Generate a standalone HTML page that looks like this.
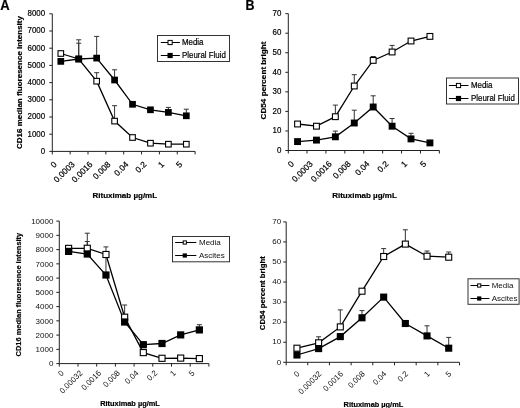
<!DOCTYPE html>
<html><head><meta charset="utf-8"><style>
html,body{margin:0;padding:0;background:#fff;}
svg{display:block;filter:grayscale(1) blur(0.35px);}
text{font-family:"Liberation Sans", sans-serif;fill:#000;stroke:#000;stroke-width:0.2px;}
text.lt{stroke:none;fill:#111;}
</style></head><body>
<svg width="520" height="408" viewBox="0 0 520 408">
<rect width="520" height="408" fill="#fff"/>
<text transform="translate(0.3,9.7) scale(0.9,1)" font-size="14.5" font-weight="bold">A</text>
<text transform="translate(245.6,9.7) scale(0.86,1)" font-size="14.5" font-weight="bold">B</text>
<line x1="52.3" y1="13.8" x2="52.3" y2="154.4" stroke="#222" stroke-width="1"/>
<line x1="49.3" y1="151.4" x2="52.3" y2="151.4" stroke="#222" stroke-width="1"/>
<text transform="translate(45.1,153.7) scale(0.92,1)" text-anchor="end" font-size="8.6">0</text>
<line x1="49.3" y1="134.2" x2="52.3" y2="134.2" stroke="#222" stroke-width="1"/>
<text transform="translate(45.1,136.5) scale(0.92,1)" text-anchor="end" font-size="8.6">1000</text>
<line x1="49.3" y1="117" x2="52.3" y2="117" stroke="#222" stroke-width="1"/>
<text transform="translate(45.1,119.3) scale(0.92,1)" text-anchor="end" font-size="8.6">2000</text>
<line x1="49.3" y1="99.8" x2="52.3" y2="99.8" stroke="#222" stroke-width="1"/>
<text transform="translate(45.1,102.1) scale(0.92,1)" text-anchor="end" font-size="8.6">3000</text>
<line x1="49.3" y1="82.6" x2="52.3" y2="82.6" stroke="#222" stroke-width="1"/>
<text transform="translate(45.1,84.9) scale(0.92,1)" text-anchor="end" font-size="8.6">4000</text>
<line x1="49.3" y1="65.4" x2="52.3" y2="65.4" stroke="#222" stroke-width="1"/>
<text transform="translate(45.1,67.7) scale(0.92,1)" text-anchor="end" font-size="8.6">5000</text>
<line x1="49.3" y1="48.2" x2="52.3" y2="48.2" stroke="#222" stroke-width="1"/>
<text transform="translate(45.1,50.5) scale(0.92,1)" text-anchor="end" font-size="8.6">6000</text>
<line x1="49.3" y1="31" x2="52.3" y2="31" stroke="#222" stroke-width="1"/>
<text transform="translate(45.1,33.3) scale(0.92,1)" text-anchor="end" font-size="8.6">7000</text>
<line x1="49.3" y1="13.8" x2="52.3" y2="13.8" stroke="#222" stroke-width="1"/>
<text transform="translate(45.1,16.1) scale(0.92,1)" text-anchor="end" font-size="8.6">8000</text>
<line x1="52.3" y1="151.4" x2="195.1" y2="151.4" stroke="#222" stroke-width="1"/>
<line x1="70.15" y1="151.4" x2="70.15" y2="154.4" stroke="#222" stroke-width="1"/>
<line x1="88" y1="151.4" x2="88" y2="154.4" stroke="#222" stroke-width="1"/>
<line x1="105.85" y1="151.4" x2="105.85" y2="154.4" stroke="#222" stroke-width="1"/>
<line x1="123.7" y1="151.4" x2="123.7" y2="154.4" stroke="#222" stroke-width="1"/>
<line x1="141.55" y1="151.4" x2="141.55" y2="154.4" stroke="#222" stroke-width="1"/>
<line x1="159.4" y1="151.4" x2="159.4" y2="154.4" stroke="#222" stroke-width="1"/>
<line x1="177.25" y1="151.4" x2="177.25" y2="154.4" stroke="#222" stroke-width="1"/>
<line x1="195.1" y1="151.4" x2="195.1" y2="154.4" stroke="#222" stroke-width="1"/>
<text transform="translate(57.3,164.9) rotate(-45)" text-anchor="end" font-size="8.4">0</text>
<text transform="translate(75.23,164.9) rotate(-45)" text-anchor="end" font-size="8.4">0.0003</text>
<text transform="translate(93.16,164.9) rotate(-45)" text-anchor="end" font-size="8.4">0.0016</text>
<text transform="translate(111.09,164.9) rotate(-45)" text-anchor="end" font-size="8.4">0.008</text>
<text transform="translate(129.02,164.9) rotate(-45)" text-anchor="end" font-size="8.4">0.04</text>
<text transform="translate(146.95,164.9) rotate(-45)" text-anchor="end" font-size="8.4">0.2</text>
<text transform="translate(164.88,164.9) rotate(-45)" text-anchor="end" font-size="8.4">1</text>
<text transform="translate(182.81,164.9) rotate(-45)" text-anchor="end" font-size="8.4">5</text>
<text transform="translate(124.8,198.4)" text-anchor="middle" font-size="8" font-weight="bold">Rituximab µg/mL</text>
<text transform="translate(21.9,82.5) rotate(-90) scale(1,0.9)" text-anchor="middle" font-size="8" font-weight="bold">CD16 median fluoresence intensity</text>
<polyline points="60.8,53.5 78.73,59 96.66,81.2 114.59,121.1 132.52,137.5 150.45,143.2 168.38,144.2 186.31,144.2" fill="none" stroke="#000" stroke-width="1.3"/>
<polyline points="60.8,61.4 78.73,59 96.66,58.1 114.59,80 132.52,104.3 150.45,109.8 168.38,112.4 186.31,115.8" fill="none" stroke="#000" stroke-width="1.3"/>
<line x1="78.73" y1="43.2" x2="78.73" y2="59" stroke="#333" stroke-width="1"/>
<line x1="76.23" y1="43.2" x2="81.23" y2="43.2" stroke="#333" stroke-width="1"/>
<line x1="96.66" y1="72.7" x2="96.66" y2="81.2" stroke="#333" stroke-width="1"/>
<line x1="94.16" y1="72.7" x2="99.16" y2="72.7" stroke="#333" stroke-width="1"/>
<line x1="114.59" y1="105.7" x2="114.59" y2="121.1" stroke="#333" stroke-width="1"/>
<line x1="112.09" y1="105.7" x2="117.09" y2="105.7" stroke="#333" stroke-width="1"/>
<line x1="78.73" y1="39.8" x2="78.73" y2="59" stroke="#333" stroke-width="1"/>
<line x1="76.23" y1="39.8" x2="81.23" y2="39.8" stroke="#333" stroke-width="1"/>
<line x1="96.66" y1="36.4" x2="96.66" y2="58.1" stroke="#333" stroke-width="1"/>
<line x1="94.16" y1="36.4" x2="99.16" y2="36.4" stroke="#333" stroke-width="1"/>
<line x1="114.59" y1="69.8" x2="114.59" y2="80" stroke="#333" stroke-width="1"/>
<line x1="112.09" y1="69.8" x2="117.09" y2="69.8" stroke="#333" stroke-width="1"/>
<line x1="168.38" y1="107.4" x2="168.38" y2="112.4" stroke="#333" stroke-width="1"/>
<line x1="165.88" y1="107.4" x2="170.88" y2="107.4" stroke="#333" stroke-width="1"/>
<line x1="186.31" y1="109.2" x2="186.31" y2="115.8" stroke="#333" stroke-width="1"/>
<line x1="183.81" y1="109.2" x2="188.81" y2="109.2" stroke="#333" stroke-width="1"/>
<rect x="58" y="50.7" width="5.6" height="5.6" fill="#fff" stroke="#000" stroke-width="1.1"/>
<rect x="75.93" y="56.2" width="5.6" height="5.6" fill="#fff" stroke="#000" stroke-width="1.1"/>
<rect x="93.86" y="78.4" width="5.6" height="5.6" fill="#fff" stroke="#000" stroke-width="1.1"/>
<rect x="111.79" y="118.3" width="5.6" height="5.6" fill="#fff" stroke="#000" stroke-width="1.1"/>
<rect x="129.72" y="134.7" width="5.6" height="5.6" fill="#fff" stroke="#000" stroke-width="1.1"/>
<rect x="147.65" y="140.4" width="5.6" height="5.6" fill="#fff" stroke="#000" stroke-width="1.1"/>
<rect x="165.58" y="141.4" width="5.6" height="5.6" fill="#fff" stroke="#000" stroke-width="1.1"/>
<rect x="183.51" y="141.4" width="5.6" height="5.6" fill="#fff" stroke="#000" stroke-width="1.1"/>
<rect x="57.45" y="58.05" width="6.7" height="6.7" fill="#000"/>
<rect x="75.38" y="55.65" width="6.7" height="6.7" fill="#000"/>
<rect x="93.31" y="54.75" width="6.7" height="6.7" fill="#000"/>
<rect x="111.24" y="76.65" width="6.7" height="6.7" fill="#000"/>
<rect x="129.17" y="100.95" width="6.7" height="6.7" fill="#000"/>
<rect x="147.1" y="106.45" width="6.7" height="6.7" fill="#000"/>
<rect x="165.03" y="109.05" width="6.7" height="6.7" fill="#000"/>
<rect x="182.96" y="112.45" width="6.7" height="6.7" fill="#000"/>
<rect x="157.5" y="35.5" width="72" height="26" fill="#fff" stroke="#333" stroke-width="1"/>
<line x1="160.8" y1="42.5" x2="179.9" y2="42.5" stroke="#000" stroke-width="1"/>
<rect x="168" y="40.4" width="4.2" height="4.2" fill="#fff" stroke="#000" stroke-width="1"/>
<text transform="translate(182,44.8) scale(0.92,1)" font-size="8.6">Media</text>
<line x1="160.8" y1="55.5" x2="179.9" y2="55.5" stroke="#000" stroke-width="1"/>
<rect x="167.5" y="52.9" width="5.2" height="5.2" fill="#000"/>
<text transform="translate(182,57.8) scale(0.92,1)" font-size="8.6">Pleural Fluid</text>
<line x1="288.3" y1="13.65" x2="288.3" y2="153.5" stroke="#222" stroke-width="1"/>
<line x1="285.3" y1="150.5" x2="288.3" y2="150.5" stroke="#222" stroke-width="1"/>
<text transform="translate(281.4,152.7) scale(0.92,1)" text-anchor="end" font-size="8.6">0</text>
<line x1="285.3" y1="130.95" x2="288.3" y2="130.95" stroke="#222" stroke-width="1"/>
<text transform="translate(281.4,133.15) scale(0.92,1)" text-anchor="end" font-size="8.6">10</text>
<line x1="285.3" y1="111.4" x2="288.3" y2="111.4" stroke="#222" stroke-width="1"/>
<text transform="translate(281.4,113.6) scale(0.92,1)" text-anchor="end" font-size="8.6">20</text>
<line x1="285.3" y1="91.85" x2="288.3" y2="91.85" stroke="#222" stroke-width="1"/>
<text transform="translate(281.4,94.05) scale(0.92,1)" text-anchor="end" font-size="8.6">30</text>
<line x1="285.3" y1="72.3" x2="288.3" y2="72.3" stroke="#222" stroke-width="1"/>
<text transform="translate(281.4,74.5) scale(0.92,1)" text-anchor="end" font-size="8.6">40</text>
<line x1="285.3" y1="52.75" x2="288.3" y2="52.75" stroke="#222" stroke-width="1"/>
<text transform="translate(281.4,54.95) scale(0.92,1)" text-anchor="end" font-size="8.6">50</text>
<line x1="285.3" y1="33.2" x2="288.3" y2="33.2" stroke="#222" stroke-width="1"/>
<text transform="translate(281.4,35.4) scale(0.92,1)" text-anchor="end" font-size="8.6">60</text>
<line x1="285.3" y1="13.65" x2="288.3" y2="13.65" stroke="#222" stroke-width="1"/>
<text transform="translate(281.4,15.85) scale(0.92,1)" text-anchor="end" font-size="8.6">70</text>
<line x1="288.1" y1="150.5" x2="439.38" y2="150.5" stroke="#222" stroke-width="1"/>
<line x1="307.01" y1="150.5" x2="307.01" y2="153.5" stroke="#222" stroke-width="1"/>
<line x1="325.92" y1="150.5" x2="325.92" y2="153.5" stroke="#222" stroke-width="1"/>
<line x1="344.83" y1="150.5" x2="344.83" y2="153.5" stroke="#222" stroke-width="1"/>
<line x1="363.74" y1="150.5" x2="363.74" y2="153.5" stroke="#222" stroke-width="1"/>
<line x1="382.65" y1="150.5" x2="382.65" y2="153.5" stroke="#222" stroke-width="1"/>
<line x1="401.56" y1="150.5" x2="401.56" y2="153.5" stroke="#222" stroke-width="1"/>
<line x1="420.47" y1="150.5" x2="420.47" y2="153.5" stroke="#222" stroke-width="1"/>
<line x1="439.38" y1="150.5" x2="439.38" y2="153.5" stroke="#222" stroke-width="1"/>
<text transform="translate(294.45,164.4) rotate(-45)" text-anchor="end" font-size="8.4">0</text>
<text transform="translate(313.36,164.4) rotate(-45)" text-anchor="end" font-size="8.4">0.0003</text>
<text transform="translate(332.27,164.4) rotate(-45)" text-anchor="end" font-size="8.4">0.0016</text>
<text transform="translate(351.18,164.4) rotate(-45)" text-anchor="end" font-size="8.4">0.008</text>
<text transform="translate(370.09,164.4) rotate(-45)" text-anchor="end" font-size="8.4">0.04</text>
<text transform="translate(389,164.4) rotate(-45)" text-anchor="end" font-size="8.4">0.2</text>
<text transform="translate(407.91,164.4) rotate(-45)" text-anchor="end" font-size="8.4">1</text>
<text transform="translate(426.82,164.4) rotate(-45)" text-anchor="end" font-size="8.4">5</text>
<text transform="translate(364.5,198)" text-anchor="middle" font-size="8" font-weight="bold">Rituximab µg/mL</text>
<text transform="translate(265.5,80.5) rotate(-90) scale(1,0.9)" text-anchor="middle" font-size="8.15" font-weight="bold">CD54 percent bright</text>
<polyline points="297.55,124 316.46,126.2 335.37,116.7 354.28,86 373.19,60.4 392.1,52 411.01,41 429.92,36.4" fill="none" stroke="#000" stroke-width="1.3"/>
<polyline points="297.55,141.6 316.46,140.1 335.37,136.8 354.28,123 373.19,107 392.1,126.2 411.01,138.9 429.92,142.9" fill="none" stroke="#000" stroke-width="1.3"/>
<line x1="335.37" y1="105.1" x2="335.37" y2="116.7" stroke="#333" stroke-width="1"/>
<line x1="332.87" y1="105.1" x2="337.87" y2="105.1" stroke="#333" stroke-width="1"/>
<line x1="354.28" y1="74.7" x2="354.28" y2="86" stroke="#333" stroke-width="1"/>
<line x1="351.78" y1="74.7" x2="356.78" y2="74.7" stroke="#333" stroke-width="1"/>
<line x1="373.19" y1="56.5" x2="373.19" y2="60.4" stroke="#333" stroke-width="1"/>
<line x1="370.69" y1="56.5" x2="375.69" y2="56.5" stroke="#333" stroke-width="1"/>
<line x1="392.1" y1="45.4" x2="392.1" y2="52" stroke="#333" stroke-width="1"/>
<line x1="389.6" y1="45.4" x2="394.6" y2="45.4" stroke="#333" stroke-width="1"/>
<line x1="335.37" y1="131.1" x2="335.37" y2="136.8" stroke="#333" stroke-width="1"/>
<line x1="332.87" y1="131.1" x2="337.87" y2="131.1" stroke="#333" stroke-width="1"/>
<line x1="354.28" y1="110.2" x2="354.28" y2="123" stroke="#333" stroke-width="1"/>
<line x1="351.78" y1="110.2" x2="356.78" y2="110.2" stroke="#333" stroke-width="1"/>
<line x1="373.19" y1="95.8" x2="373.19" y2="107" stroke="#333" stroke-width="1"/>
<line x1="370.69" y1="95.8" x2="375.69" y2="95.8" stroke="#333" stroke-width="1"/>
<line x1="392.1" y1="118.5" x2="392.1" y2="126.2" stroke="#333" stroke-width="1"/>
<line x1="389.6" y1="118.5" x2="394.6" y2="118.5" stroke="#333" stroke-width="1"/>
<line x1="411.01" y1="133.3" x2="411.01" y2="138.9" stroke="#333" stroke-width="1"/>
<line x1="408.51" y1="133.3" x2="413.51" y2="133.3" stroke="#333" stroke-width="1"/>
<rect x="294.65" y="121.1" width="5.8" height="5.8" fill="#fff" stroke="#000" stroke-width="1.1"/>
<rect x="313.56" y="123.3" width="5.8" height="5.8" fill="#fff" stroke="#000" stroke-width="1.1"/>
<rect x="332.47" y="113.8" width="5.8" height="5.8" fill="#fff" stroke="#000" stroke-width="1.1"/>
<rect x="351.38" y="83.1" width="5.8" height="5.8" fill="#fff" stroke="#000" stroke-width="1.1"/>
<rect x="370.29" y="57.5" width="5.8" height="5.8" fill="#fff" stroke="#000" stroke-width="1.1"/>
<rect x="389.2" y="49.1" width="5.8" height="5.8" fill="#fff" stroke="#000" stroke-width="1.1"/>
<rect x="408.11" y="38.1" width="5.8" height="5.8" fill="#fff" stroke="#000" stroke-width="1.1"/>
<rect x="427.02" y="33.5" width="5.8" height="5.8" fill="#fff" stroke="#000" stroke-width="1.1"/>
<rect x="294.1" y="138.15" width="6.9" height="6.9" fill="#000"/>
<rect x="313.01" y="136.65" width="6.9" height="6.9" fill="#000"/>
<rect x="331.92" y="133.35" width="6.9" height="6.9" fill="#000"/>
<rect x="350.83" y="119.55" width="6.9" height="6.9" fill="#000"/>
<rect x="369.74" y="103.55" width="6.9" height="6.9" fill="#000"/>
<rect x="388.65" y="122.75" width="6.9" height="6.9" fill="#000"/>
<rect x="407.56" y="135.45" width="6.9" height="6.9" fill="#000"/>
<rect x="426.47" y="139.45" width="6.9" height="6.9" fill="#000"/>
<rect x="446.5" y="78" width="72" height="26" fill="#fff" stroke="#333" stroke-width="1"/>
<line x1="448.9" y1="85.5" x2="468.5" y2="85.5" stroke="#000" stroke-width="1"/>
<rect x="456.4" y="83.4" width="4.2" height="4.2" fill="#fff" stroke="#000" stroke-width="1"/>
<text transform="translate(471,87.5) scale(0.92,1)" font-size="8.6">Media</text>
<line x1="448.9" y1="98.5" x2="468.5" y2="98.5" stroke="#000" stroke-width="1"/>
<rect x="455.9" y="95.9" width="5.2" height="5.2" fill="#000"/>
<text transform="translate(471,100.5) scale(0.92,1)" font-size="8.6">Pleural Fluid</text>
<line x1="59.3" y1="221.1" x2="59.3" y2="366.6" stroke="#222" stroke-width="1"/>
<line x1="56.3" y1="363.6" x2="59.3" y2="363.6" stroke="#222" stroke-width="1"/>
<text transform="translate(53.4,366.4)" text-anchor="end" font-size="8" class="lt">0</text>
<line x1="56.3" y1="349.35" x2="59.3" y2="349.35" stroke="#222" stroke-width="1"/>
<text transform="translate(53.4,352.15)" text-anchor="end" font-size="8" class="lt">1000</text>
<line x1="56.3" y1="335.1" x2="59.3" y2="335.1" stroke="#222" stroke-width="1"/>
<text transform="translate(53.4,337.9)" text-anchor="end" font-size="8" class="lt">2000</text>
<line x1="56.3" y1="320.85" x2="59.3" y2="320.85" stroke="#222" stroke-width="1"/>
<text transform="translate(53.4,323.65)" text-anchor="end" font-size="8" class="lt">3000</text>
<line x1="56.3" y1="306.6" x2="59.3" y2="306.6" stroke="#222" stroke-width="1"/>
<text transform="translate(53.4,309.4)" text-anchor="end" font-size="8" class="lt">4000</text>
<line x1="56.3" y1="292.35" x2="59.3" y2="292.35" stroke="#222" stroke-width="1"/>
<text transform="translate(53.4,295.15)" text-anchor="end" font-size="8" class="lt">5000</text>
<line x1="56.3" y1="278.1" x2="59.3" y2="278.1" stroke="#222" stroke-width="1"/>
<text transform="translate(53.4,280.9)" text-anchor="end" font-size="8" class="lt">6000</text>
<line x1="56.3" y1="263.85" x2="59.3" y2="263.85" stroke="#222" stroke-width="1"/>
<text transform="translate(53.4,266.65)" text-anchor="end" font-size="8" class="lt">7000</text>
<line x1="56.3" y1="249.6" x2="59.3" y2="249.6" stroke="#222" stroke-width="1"/>
<text transform="translate(53.4,252.4)" text-anchor="end" font-size="8" class="lt">8000</text>
<line x1="56.3" y1="235.35" x2="59.3" y2="235.35" stroke="#222" stroke-width="1"/>
<text transform="translate(53.4,238.15)" text-anchor="end" font-size="8" class="lt">9000</text>
<line x1="56.3" y1="221.1" x2="59.3" y2="221.1" stroke="#222" stroke-width="1"/>
<text transform="translate(53.4,223.9)" text-anchor="end" font-size="8" class="lt">10000</text>
<line x1="59.3" y1="363.6" x2="208.9" y2="363.6" stroke="#222" stroke-width="1"/>
<line x1="78" y1="363.6" x2="78" y2="366.6" stroke="#222" stroke-width="1"/>
<line x1="96.7" y1="363.6" x2="96.7" y2="366.6" stroke="#222" stroke-width="1"/>
<line x1="115.4" y1="363.6" x2="115.4" y2="366.6" stroke="#222" stroke-width="1"/>
<line x1="134.1" y1="363.6" x2="134.1" y2="366.6" stroke="#222" stroke-width="1"/>
<line x1="152.8" y1="363.6" x2="152.8" y2="366.6" stroke="#222" stroke-width="1"/>
<line x1="171.5" y1="363.6" x2="171.5" y2="366.6" stroke="#222" stroke-width="1"/>
<line x1="190.2" y1="363.6" x2="190.2" y2="366.6" stroke="#222" stroke-width="1"/>
<line x1="208.9" y1="363.6" x2="208.9" y2="366.6" stroke="#222" stroke-width="1"/>
<text transform="translate(64.4,373.5) rotate(-45)" text-anchor="end" font-size="8" class="lt">0</text>
<text transform="translate(83.08,373.5) rotate(-45)" text-anchor="end" font-size="8" class="lt">0.00032</text>
<text transform="translate(101.76,373.5) rotate(-45)" text-anchor="end" font-size="8" class="lt">0.0016</text>
<text transform="translate(120.44,373.5) rotate(-45)" text-anchor="end" font-size="8" class="lt">0.008</text>
<text transform="translate(139.12,373.5) rotate(-45)" text-anchor="end" font-size="8" class="lt">0.04</text>
<text transform="translate(157.8,373.5) rotate(-45)" text-anchor="end" font-size="8" class="lt">0.2</text>
<text transform="translate(176.48,373.5) rotate(-45)" text-anchor="end" font-size="8" class="lt">1</text>
<text transform="translate(195.16,373.5) rotate(-45)" text-anchor="end" font-size="8" class="lt">5</text>
<text transform="translate(130,406.4)" text-anchor="middle" font-size="7.4" font-weight="bold">Rituximab µg/mL</text>
<text transform="translate(21.4,294.6) rotate(-90) scale(1,0.9)" text-anchor="middle" font-size="7.45" font-weight="bold">CD16 median fluoresence intensity</text>
<polyline points="68.6,248.4 87.28,248.3 105.96,254.5 124.64,317.2 143.32,352.6 162,358.3 180.68,358.1 199.36,358.6" fill="none" stroke="#000" stroke-width="1.3"/>
<polyline points="68.6,251.4 87.28,254 105.96,275 124.64,322 143.32,344.7 162,343.5 180.68,334.9 199.36,329.9" fill="none" stroke="#000" stroke-width="1.3"/>
<line x1="87.28" y1="233.2" x2="87.28" y2="248.3" stroke="#333" stroke-width="1"/>
<line x1="84.78" y1="233.2" x2="89.78" y2="233.2" stroke="#333" stroke-width="1"/>
<line x1="105.96" y1="246.9" x2="105.96" y2="254.5" stroke="#333" stroke-width="1"/>
<line x1="103.46" y1="246.9" x2="108.46" y2="246.9" stroke="#333" stroke-width="1"/>
<line x1="124.64" y1="305" x2="124.64" y2="317.2" stroke="#333" stroke-width="1"/>
<line x1="122.14" y1="305" x2="127.14" y2="305" stroke="#333" stroke-width="1"/>
<line x1="87.28" y1="241.5" x2="87.28" y2="254" stroke="#333" stroke-width="1"/>
<line x1="84.78" y1="241.5" x2="89.78" y2="241.5" stroke="#333" stroke-width="1"/>
<line x1="105.96" y1="256" x2="105.96" y2="275" stroke="#333" stroke-width="1"/>
<line x1="103.46" y1="256" x2="108.46" y2="256" stroke="#333" stroke-width="1"/>
<line x1="199.36" y1="324.7" x2="199.36" y2="329.9" stroke="#333" stroke-width="1"/>
<line x1="196.86" y1="324.7" x2="201.86" y2="324.7" stroke="#333" stroke-width="1"/>
<rect x="65.55" y="245.35" width="6.1" height="6.1" fill="#fff" stroke="#000" stroke-width="1.1"/>
<rect x="84.23" y="245.25" width="6.1" height="6.1" fill="#fff" stroke="#000" stroke-width="1.1"/>
<rect x="102.91" y="251.45" width="6.1" height="6.1" fill="#fff" stroke="#000" stroke-width="1.1"/>
<rect x="121.59" y="314.15" width="6.1" height="6.1" fill="#fff" stroke="#000" stroke-width="1.1"/>
<rect x="140.27" y="349.55" width="6.1" height="6.1" fill="#fff" stroke="#000" stroke-width="1.1"/>
<rect x="158.95" y="355.25" width="6.1" height="6.1" fill="#fff" stroke="#000" stroke-width="1.1"/>
<rect x="177.63" y="355.05" width="6.1" height="6.1" fill="#fff" stroke="#000" stroke-width="1.1"/>
<rect x="196.31" y="355.55" width="6.1" height="6.1" fill="#fff" stroke="#000" stroke-width="1.1"/>
<rect x="65" y="247.8" width="7.2" height="7.2" fill="#000"/>
<rect x="83.68" y="250.4" width="7.2" height="7.2" fill="#000"/>
<rect x="102.36" y="271.4" width="7.2" height="7.2" fill="#000"/>
<rect x="121.04" y="318.4" width="7.2" height="7.2" fill="#000"/>
<rect x="139.72" y="341.1" width="7.2" height="7.2" fill="#000"/>
<rect x="158.4" y="339.9" width="7.2" height="7.2" fill="#000"/>
<rect x="177.08" y="331.3" width="7.2" height="7.2" fill="#000"/>
<rect x="195.76" y="326.3" width="7.2" height="7.2" fill="#000"/>
<rect x="172.5" y="236.5" width="57" height="25.3" fill="#fff" stroke="#333" stroke-width="1"/>
<line x1="175.1" y1="242.5" x2="196.3" y2="242.5" stroke="#000" stroke-width="1"/>
<rect x="183.2" y="240.9" width="3.2" height="3.2" fill="#fff" stroke="#000" stroke-width="1"/>
<text transform="translate(199,245.1)" font-size="8" class="lt">Media</text>
<line x1="175.1" y1="255.5" x2="196.3" y2="255.5" stroke="#000" stroke-width="1"/>
<rect x="182.7" y="253.4" width="4.2" height="4.2" fill="#000"/>
<text transform="translate(199,258.1)" font-size="8" class="lt">Ascites</text>
<line x1="286.2" y1="221.88" x2="286.2" y2="365.3" stroke="#222" stroke-width="1"/>
<line x1="283.2" y1="362.3" x2="286.2" y2="362.3" stroke="#222" stroke-width="1"/>
<text transform="translate(281.2,364.5)" text-anchor="end" font-size="8" class="lt">0</text>
<line x1="283.2" y1="342.24" x2="286.2" y2="342.24" stroke="#222" stroke-width="1"/>
<text transform="translate(281.2,344.44)" text-anchor="end" font-size="8" class="lt">10</text>
<line x1="283.2" y1="322.18" x2="286.2" y2="322.18" stroke="#222" stroke-width="1"/>
<text transform="translate(281.2,324.38)" text-anchor="end" font-size="8" class="lt">20</text>
<line x1="283.2" y1="302.12" x2="286.2" y2="302.12" stroke="#222" stroke-width="1"/>
<text transform="translate(281.2,304.32)" text-anchor="end" font-size="8" class="lt">30</text>
<line x1="283.2" y1="282.06" x2="286.2" y2="282.06" stroke="#222" stroke-width="1"/>
<text transform="translate(281.2,284.26)" text-anchor="end" font-size="8" class="lt">40</text>
<line x1="283.2" y1="262" x2="286.2" y2="262" stroke="#222" stroke-width="1"/>
<text transform="translate(281.2,264.2)" text-anchor="end" font-size="8" class="lt">50</text>
<line x1="283.2" y1="241.94" x2="286.2" y2="241.94" stroke="#222" stroke-width="1"/>
<text transform="translate(281.2,244.14)" text-anchor="end" font-size="8" class="lt">60</text>
<line x1="283.2" y1="221.88" x2="286.2" y2="221.88" stroke="#222" stroke-width="1"/>
<text transform="translate(281.2,224.08)" text-anchor="end" font-size="8" class="lt">70</text>
<line x1="286.1" y1="362.3" x2="459.54" y2="362.3" stroke="#222" stroke-width="1"/>
<line x1="307.78" y1="362.3" x2="307.78" y2="365.3" stroke="#222" stroke-width="1"/>
<line x1="329.46" y1="362.3" x2="329.46" y2="365.3" stroke="#222" stroke-width="1"/>
<line x1="351.14" y1="362.3" x2="351.14" y2="365.3" stroke="#222" stroke-width="1"/>
<line x1="372.82" y1="362.3" x2="372.82" y2="365.3" stroke="#222" stroke-width="1"/>
<line x1="394.5" y1="362.3" x2="394.5" y2="365.3" stroke="#222" stroke-width="1"/>
<line x1="416.18" y1="362.3" x2="416.18" y2="365.3" stroke="#222" stroke-width="1"/>
<line x1="437.86" y1="362.3" x2="437.86" y2="365.3" stroke="#222" stroke-width="1"/>
<line x1="459.54" y1="362.3" x2="459.54" y2="365.3" stroke="#222" stroke-width="1"/>
<text transform="translate(300.25,374.4) rotate(-45)" text-anchor="end" font-size="8" class="lt">0</text>
<text transform="translate(321.93,374.4) rotate(-45)" text-anchor="end" font-size="8" class="lt">0.00032</text>
<text transform="translate(343.61,374.4) rotate(-45)" text-anchor="end" font-size="8" class="lt">0.0016</text>
<text transform="translate(365.29,374.4) rotate(-45)" text-anchor="end" font-size="8" class="lt">0.008</text>
<text transform="translate(386.97,374.4) rotate(-45)" text-anchor="end" font-size="8" class="lt">0.04</text>
<text transform="translate(408.65,374.4) rotate(-45)" text-anchor="end" font-size="8" class="lt">0.2</text>
<text transform="translate(430.33,374.4) rotate(-45)" text-anchor="end" font-size="8" class="lt">1</text>
<text transform="translate(452.01,374.4) rotate(-45)" text-anchor="end" font-size="8" class="lt">5</text>
<text transform="translate(373.4,406.6)" text-anchor="middle" font-size="7.4" font-weight="bold">Rituximab µg/mL</text>
<text transform="translate(265,293.2) rotate(-90) scale(1,0.9)" text-anchor="middle" font-size="7.75" font-weight="bold">CD54 percent bright</text>
<polyline points="296.95,348.2 318.63,342.8 340.31,326.9 361.99,291.2 383.67,256.5 405.35,244.1 427.03,256.2 448.71,257.2" fill="none" stroke="#000" stroke-width="1.3"/>
<polyline points="296.95,355 318.63,348.6 340.31,336.6 361.99,317.8 383.67,297.1 405.35,323.5 427.03,335.9 448.71,348.2" fill="none" stroke="#000" stroke-width="1.3"/>
<line x1="318.63" y1="336.8" x2="318.63" y2="342.8" stroke="#333" stroke-width="1"/>
<line x1="316.13" y1="336.8" x2="321.13" y2="336.8" stroke="#333" stroke-width="1"/>
<line x1="340.31" y1="309.9" x2="340.31" y2="326.9" stroke="#333" stroke-width="1"/>
<line x1="337.81" y1="309.9" x2="342.81" y2="309.9" stroke="#333" stroke-width="1"/>
<line x1="383.67" y1="248.6" x2="383.67" y2="256.5" stroke="#333" stroke-width="1"/>
<line x1="381.17" y1="248.6" x2="386.17" y2="248.6" stroke="#333" stroke-width="1"/>
<line x1="405.35" y1="229.8" x2="405.35" y2="244.1" stroke="#333" stroke-width="1"/>
<line x1="402.85" y1="229.8" x2="407.85" y2="229.8" stroke="#333" stroke-width="1"/>
<line x1="427.03" y1="251" x2="427.03" y2="256.2" stroke="#333" stroke-width="1"/>
<line x1="424.53" y1="251" x2="429.53" y2="251" stroke="#333" stroke-width="1"/>
<line x1="448.71" y1="252" x2="448.71" y2="257.2" stroke="#333" stroke-width="1"/>
<line x1="446.21" y1="252" x2="451.21" y2="252" stroke="#333" stroke-width="1"/>
<line x1="361.99" y1="310.6" x2="361.99" y2="317.8" stroke="#333" stroke-width="1"/>
<line x1="359.49" y1="310.6" x2="364.49" y2="310.6" stroke="#333" stroke-width="1"/>
<line x1="427.03" y1="325.8" x2="427.03" y2="335.9" stroke="#333" stroke-width="1"/>
<line x1="424.53" y1="325.8" x2="429.53" y2="325.8" stroke="#333" stroke-width="1"/>
<line x1="448.71" y1="337.4" x2="448.71" y2="348.2" stroke="#333" stroke-width="1"/>
<line x1="446.21" y1="337.4" x2="451.21" y2="337.4" stroke="#333" stroke-width="1"/>
<rect x="293.95" y="345.2" width="6" height="6" fill="#fff" stroke="#000" stroke-width="1.1"/>
<rect x="315.63" y="339.8" width="6" height="6" fill="#fff" stroke="#000" stroke-width="1.1"/>
<rect x="337.31" y="323.9" width="6" height="6" fill="#fff" stroke="#000" stroke-width="1.1"/>
<rect x="358.99" y="288.2" width="6" height="6" fill="#fff" stroke="#000" stroke-width="1.1"/>
<rect x="380.67" y="253.5" width="6" height="6" fill="#fff" stroke="#000" stroke-width="1.1"/>
<rect x="402.35" y="241.1" width="6" height="6" fill="#fff" stroke="#000" stroke-width="1.1"/>
<rect x="424.03" y="253.2" width="6" height="6" fill="#fff" stroke="#000" stroke-width="1.1"/>
<rect x="445.71" y="254.2" width="6" height="6" fill="#fff" stroke="#000" stroke-width="1.1"/>
<rect x="293.4" y="351.45" width="7.1" height="7.1" fill="#000"/>
<rect x="315.08" y="345.05" width="7.1" height="7.1" fill="#000"/>
<rect x="336.76" y="333.05" width="7.1" height="7.1" fill="#000"/>
<rect x="358.44" y="314.25" width="7.1" height="7.1" fill="#000"/>
<rect x="380.12" y="293.55" width="7.1" height="7.1" fill="#000"/>
<rect x="401.8" y="319.95" width="7.1" height="7.1" fill="#000"/>
<rect x="423.48" y="332.35" width="7.1" height="7.1" fill="#000"/>
<rect x="445.16" y="344.65" width="7.1" height="7.1" fill="#000"/>
<rect x="468" y="278.8" width="51.1" height="25.5" fill="#fff" stroke="#333" stroke-width="1"/>
<line x1="470.4" y1="285.5" x2="489.4" y2="285.5" stroke="#000" stroke-width="1"/>
<rect x="477.6" y="283.9" width="3.2" height="3.2" fill="#fff" stroke="#000" stroke-width="1"/>
<text transform="translate(491.7,287.8)" font-size="8" class="lt">Media</text>
<line x1="470.4" y1="298.5" x2="489.4" y2="298.5" stroke="#000" stroke-width="1"/>
<rect x="477.1" y="296.4" width="4.2" height="4.2" fill="#000"/>
<text transform="translate(491.7,300.8)" font-size="8" class="lt">Ascites</text>
</svg></body></html>
